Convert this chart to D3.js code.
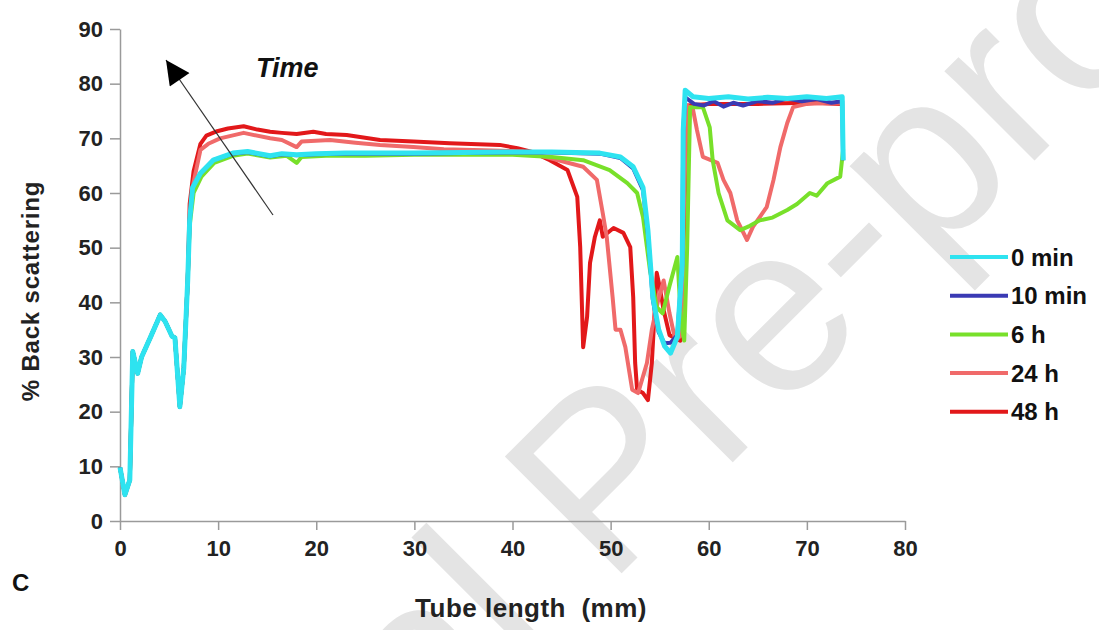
<!DOCTYPE html>
<html>
<head>
<meta charset="utf-8">
<script src="https://cdn.jsdelivr.net/npm/d3@7"></script>
<style>
  body { margin: 0; background: #fff; }
  svg text { font-family: "Liberation Sans", Arial, sans-serif; }
</style>
</head>
<body>
<div id="chart"></div>
<script>
// shared start of every trace (0-7 mm)
const startPart = [[0,9.8],[0.5,4.8],[1.0,7.5],[1.3,31],[1.8,27],[2.2,30],[3.2,34],[4.1,37.7],[4.6,36.5],[5.3,33.8],[5.6,33.5],[6.1,20.9],[6.5,28],[6.9,44]];

const min0 = startPart.concat([[7.1,55],[7.4,61],[8.2,63.6],[9.5,66],[11.5,67.3],[13,67.6],[15.3,66.8],[16.5,67.2],[18,67],[20,67.2],[23,67.3],[27,67.3],[30,67.3],[35,67.4],[39,67.5],[44,67.5],[48.9,67.3],[51,66.6],[52.3,64.8],[53.3,61],[53.8,53.2],[54.3,41],[54.9,35],[55.5,32],[56.1,30.7],[56.8,33.7],[57.3,47],[57.4,71.5],[57.6,78.8],[58.4,77.6],[60,77.3],[62,77.6],[64,77.2],[66,77.5],[68,77.3],[70,77.6],[72,77.3],[73.6,77.6],[73.7,66]]);

const min10 = startPart.concat([[7.1,55],[7.4,61],[8.2,63.6],[9.5,66],[11.5,67.2],[13,67.5],[15.3,66.7],[16.5,67.1],[18,66.9],[20,67.1],[23,67.2],[27,67.2],[30,67.2],[35,67.3],[39,67.4],[44,67.4],[48.9,67.2],[51,66.4],[52.3,64.5],[53.3,60.5],[53.8,52.5],[54.3,40.5],[54.9,34.5],[55.5,32.5],[56.1,32.6],[56.8,34],[57.3,47],[57.4,71.5],[57.6,77.5],[58.5,76.3],[59.5,76],[60.5,76.8],[61.5,75.8],[62.5,76.5],[63.5,76],[65,76.8],[66.5,76.5],[68,77.3],[69.5,76.8],[71,77.2],[72.5,76.5],[73.6,76.8],[73.7,66]]);

const h6 = startPart.concat([[7.1,54],[7.5,60],[8.3,63],[9.6,65.5],[11.5,66.8],[13,67.2],[15.3,66.5],[17,66.8],[18,65.5],[18.5,66.6],[21,66.8],[25,66.8],[30,67],[35,67],[40,67],[44,66.6],[47.2,66],[49.9,64.2],[51.7,61.8],[52.7,60],[53.3,55.6],[54,46],[54.7,39.1],[55.3,38],[56,43],[56.8,48.3],[57.2,36],[57.5,33],[57.8,50],[58.1,75.7],[59.4,75.7],[60.1,72],[60.4,66],[61,60],[61.9,55],[63.2,53.2],[64.2,54],[65.2,55],[66.5,55.5],[68,56.9],[69,58],[70.3,60],[71,59.5],[72.1,61.8],[73.4,63],[73.7,68]]);

const h24 = startPart.concat([[7.1,55],[7.5,62],[8.2,67.9],[9,69],[10.2,70],[12.6,71],[15.3,70],[16.5,69.7],[18,68.4],[18.5,69.4],[21.4,69.7],[24,69.2],[26.5,68.8],[29.9,68.4],[33,68],[37,67.8],[41,67.6],[43.8,66.4],[47.2,64.8],[48.6,62.4],[49.2,56.3],[49.6,52],[50.2,41],[50.5,35],[51,35],[51.5,31.8],[52.2,24],[52.8,23.4],[53.7,28.9],[54.2,35],[54.8,40],[55.4,44],[56,38],[56.6,33],[57.2,34],[57.5,60],[57.8,76],[58.4,75.2],[58.8,71.5],[59.4,66.6],[60.9,65.5],[61.5,62.4],[62.2,60],[62.9,55],[63.9,51.4],[64.5,53.8],[65.9,57.4],[66.6,62.4],[67.3,68.4],[68,72.8],[68.6,75.7],[70,76.3],[72,76.5],[73.6,76.5]]);

const h48 = startPart.concat([[7.1,58],[7.5,64],[8.2,69],[8.8,70.5],[9.9,71.3],[11,71.8],[12.6,72.2],[14,71.6],[15.3,71.2],[16.5,71],[18,70.8],[19.7,71.2],[21,70.8],[23.1,70.6],[26.5,69.7],[29.9,69.4],[33.6,69.1],[38.7,68.8],[40.5,68.2],[42,67.5],[43.8,66],[45.6,64.2],[46.6,59.3],[46.9,50.1],[47.2,31.8],[47.6,37.3],[47.9,47.2],[48.4,52],[48.9,55],[49.2,52],[50.3,53.6],[51.3,52.7],[52,50.1],[52.3,41],[52.5,28.9],[52.7,24],[53.3,23.4],[53.8,22.1],[54.2,28.9],[54.7,45.4],[55,42.8],[55.4,38.6],[56,34],[57.1,33],[57.5,55],[57.8,76],[60,76.3],[65,76.3],[70,76.5],[73.6,76.3]]);

const seriesNames = ["0 min", "10 min", "6 h", "24 h", "48 h"];
const seriesData = [min0, min10, h6, h24, h48];
const seriesColors = ["#2ee3f0", "#3a3ab4", "#78e02a", "#f06a6a", "#e2181a"];
const xTicks = [0, 10, 20, 30, 40, 50, 60, 70, 80];
const yTicks = [0, 10, 20, 30, 40, 50, 60, 70, 80, 90];

const width = 1099, height = 630;
const svg = d3.select("#chart").append("svg")
    .attr("width", width)
    .attr("height", height);

// watermark behind the plot
svg.append("text")
    .attr("transform", "translate(400,795) rotate(-45)")
    .attr("x", -560)
    .style("font-size", "240px")
    .style("fill", "#e4e4e4")
    .text("Journal Pre-proof");

const x = d3.scaleLinear().domain([0, 80]).range([120, 905]);
const y = d3.scaleLinear().domain([0, 90]).range([521, 29]);

const xAxis = svg.append("g")
    .attr("transform", `translate(0,${y(0)})`)
    .call(d3.axisBottom(x).tickValues(xTicks).tickSize(9).tickSizeOuter(0).tickPadding(8));
const yAxis = svg.append("g")
    .attr("transform", `translate(${x(0)},0)`)
    .call(d3.axisLeft(y).tickValues(yTicks).tickSize(10).tickSizeOuter(0).tickPadding(7));

[xAxis, yAxis].forEach(ax => {
    ax.select(".domain").attr("stroke", "#9a9a9a").attr("stroke-width", 1.5);
    ax.selectAll(".tick line").attr("stroke", "#9a9a9a").attr("stroke-width", 1.5);
    ax.selectAll(".tick text")
        .attr("fill", "#222")
        .style("font-size", "22px")
        .style("font-weight", "bold")
        .style("font-family", "'Liberation Sans', Arial, sans-serif");
});
xAxis.selectAll(".tick text").attr("dy", "0.82em");

const line = d3.line()
    .x(d => x(d[0]))
    .y(d => y(d[1]));

// draw oldest first so 0 min ends on top
const order = [4, 3, 2, 1, 0];
svg.append("g")
    .selectAll("path")
    .data(order)
    .enter().append("path")
    .attr("fill", "none")
    .attr("stroke", i => seriesColors[i])
    .attr("stroke-width", i => i === 0 ? 5 : 4)
    .attr("stroke-linejoin", "round")
    .attr("d", i => line(seriesData[i]));

// arrow for time direction
svg.append("defs").append("marker")
    .attr("id", "head")
    .attr("viewBox", "0 0 10 10")
    .attr("refX", 10).attr("refY", 5)
    .attr("markerWidth", 28).attr("markerHeight", 24)
    .attr("markerUnits", "userSpaceOnUse")
    .attr("orient", "auto")
    .append("path")
    .attr("d", "M0,0 L10,5 L0,10 Z")
    .attr("fill", "#000");

svg.append("line")
    .attr("x1", 273).attr("y1", 215)
    .attr("x2", 166).attr("y2", 60)
    .attr("stroke", "#333")
    .attr("stroke-width", 1.2)
    .attr("marker-end", "url(#head)");

svg.append("text")
    .attr("x", 256).attr("y", 77)
    .style("font-size", "27px")
    .style("font-weight", "bold")
    .style("font-style", "italic")
    .attr("fill", "#111")
    .text("Time");

// axis titles
svg.append("text")
    .attr("x", 531).attr("y", 617)
    .attr("text-anchor", "middle")
    .style("font-size", "26px")
    .style("font-weight", "bold")
    .style("letter-spacing", "0.5px")
    .attr("fill", "#222")
    .attr("xml:space", "preserve")
    .text("Tube length  (mm)");

svg.append("text")
    .attr("transform", "translate(39,291) rotate(-90)")
    .attr("text-anchor", "middle")
    .style("font-size", "24px")
    .style("font-weight", "bold")
    .style("letter-spacing", "0.8px")
    .attr("fill", "#222")
    .text("% Back scattering");

svg.append("text")
    .attr("x", 12).attr("y", 591)
    .style("font-size", "24px")
    .style("font-weight", "bold")
    .attr("fill", "#111")
    .text("C");

// legend
const legend = svg.append("g")
    .selectAll("g")
    .data(seriesNames)
    .enter().append("g")
    .attr("transform", (d, i) => `translate(950,${257 + i * 38.7})`);

legend.append("line")
    .attr("x1", 0).attr("x2", 58)
    .attr("stroke", (d, i) => seriesColors[i])
    .attr("stroke-width", 4);

legend.append("text")
    .attr("x", 61)
    .attr("dy", "0.36em")
    .style("font-size", "24px")
    .style("font-weight", "bold")
    .attr("fill", "#111")
    .text(d => d);
</script>
</body>
</html>
